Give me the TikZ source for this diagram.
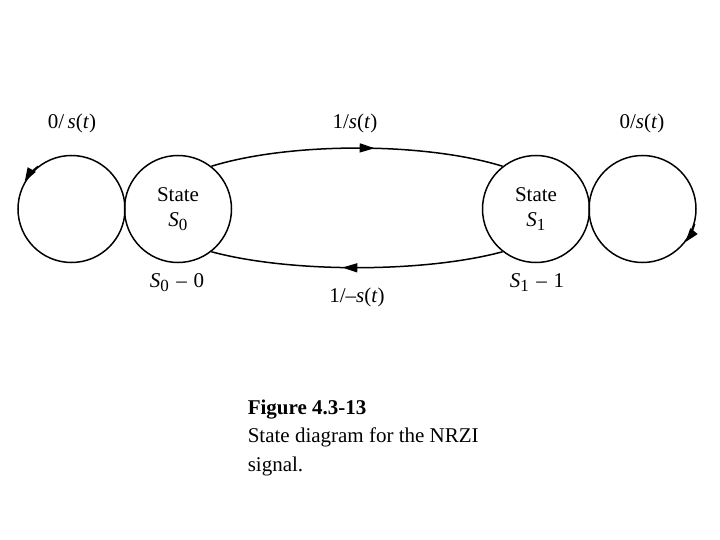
\documentclass[tikz,border=0pt]{standalone}
\usepackage{fontspec}
\setmainfont{Liberation Serif}
\usetikzlibrary{arrows.meta,decorations.markings}
\newcommand{\itx}[1]{\textit{#1}}
\begin{document}
\begin{tikzpicture}[x=1pt,y=-1pt,
  line width=1.5pt,
  statenode/.style={circle,draw,minimum size=107pt,inner sep=0pt,align=center,font=\fontsize{21}{25}\selectfont},
  loopnode/.style={circle,draw,minimum size=107pt,inner sep=0pt},
  lbl/.style={font=\fontsize{21}{25}\selectfont,inner sep=0pt},
  tip/.style={-{Triangle[length=14pt,width=9pt]}},
  midarrow/.style={postaction={decorate},decoration={markings,mark=at position #1 with {\arrow{Triangle[length=15pt,width=9pt]}}}},
  midarrowrev/.style={postaction={decorate},decoration={markings,mark=at position #1 with {\arrowreversed{Triangle[length=15pt,width=9pt]}}}}
]
\useasboundingbox (0,0) rectangle (720,540);
\node[statenode] (S0) at (178,209) {State\\\itx{S}\textsubscript{\fontsize{17}{17}\selectfont 0}};
\node[statenode] (S1) at (536,209) {State\\\itx{S}\textsubscript{\fontsize{17}{17}\selectfont 1}};
\node[loopnode] (L0) at (71.5,209) {};
\node[loopnode] (L1) at (642.5,209) {};
% loop arrowheads
\draw[tip] (L0.128) arc[start angle=128,end angle=150,radius=53.5pt];
\draw[tip] (L1.-16) arc[start angle=-16,end angle=-38,radius=53.5pt];
% transitions
\draw[midarrow=0.56] (S0.52) .. controls (290,142) and (424,142) .. (S1.128);
\draw[midarrowrev=0.45] (S0.-52) .. controls (290,273) and (424,273) .. (S1.-128);
% labels
\node[lbl] (t1) at (72,123) {0/\,\itx{s}(\itx{t})};
\node[lbl] (t2) at (355,123) {1/\itx{s}(\itx{t})};
\node[lbl] (t3) at (642,123) {0/\itx{s}(\itx{t})};
\node[lbl] (t4) at (357,297) {1/–\itx{s}(\itx{t})};
\node[lbl] (t5) at (177,283) {\itx{S}\textsubscript{\fontsize{17}{17}\selectfont 0}\,\,–\,\,0};
\node[lbl] (t6) at (537,283) {\itx{S}\textsubscript{\fontsize{17}{17}\selectfont 1}\,\,–\,\,1};
% caption
\node[anchor=base west,align=left,inner sep=0pt,font=\fontsize{21}{28.5}\selectfont] (cap) at (247,471)
  {\textbf{Figure 4.3-13}\\State diagram for the NRZI\\signal.};
\end{tikzpicture}
\end{document}
